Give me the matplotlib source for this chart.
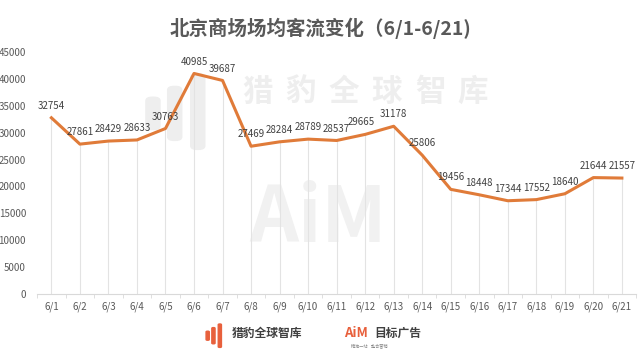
import matplotlib.pyplot as plt
from matplotlib.patches import FancyBboxPatch

plt.rcParams['font.family'] = ['Noto Sans CJK SC', 'DejaVu Sans']
plt.rcParams['axes.unicode_minus'] = False

# 数据
dates = ['6/1', '6/2', '6/3', '6/4', '6/5', '6/6', '6/7', '6/8', '6/9', '6/10', '6/11',
         '6/12', '6/13', '6/14', '6/15', '6/16', '6/17', '6/18', '6/19', '6/20', '6/21']
visitors = [32754, 27861, 28429, 28633, 30763, 40985, 39687, 27469, 28284, 28789, 28537,
            29665, 31178, 25806, 19456, 18448, 17344, 17552, 18640, 21644, 21557]
y_ticks = [0, 5000, 10000, 15000, 20000, 25000, 30000, 35000, 40000, 45000]

line_color = '#E07B39'
x = list(range(len(dates)))

fig = plt.figure(figsize=(6.4, 3.6), dpi=100)
ax = fig.add_axes([0.058, 0.183, 0.936, 0.673])
ax.set_facecolor('none')

# 水印
wm_color = '#eeeeee'
for i, ch in enumerate('猎豹全球智库'):
    ax.text((258 + i * 43) / 640, 0.745, ch, transform=fig.transFigure, fontsize=22,
            fontweight='bold', color=wm_color, ha='center', va='center', zorder=0)
ax.text(0.497, 0.392, 'AiM', transform=fig.transFigure, fontsize=55,
        fontweight='bold', color='#f1f1f1', ha='center', va='center', zorder=0)
for bx, by, bh in [(0.228, 0.64, 0.09), (0.262, 0.61, 0.15), (0.298, 0.585, 0.21)]:
    ax.add_patch(FancyBboxPatch((bx, by), 0.022, bh, boxstyle='round,pad=0,rounding_size=0.01',
                                transform=fig.transFigure, color=wm_color, zorder=0,
                                clip_on=False))

# 垂直线 + 折线
ax.vlines(x, 0, visitors, color='#e3e3e3', linewidth=0.8, zorder=1)
ax.plot(x, visitors, color=line_color, linewidth=2.2, zorder=3)

for xi, v in zip(x, visitors):
    dx = -3 if v == 29665 else 0
    ax.annotate(str(v), (xi, v), xytext=(dx, 5), textcoords='offset points',
                ha='center', va='bottom', fontsize=7, color='#404040', fontweight='medium', zorder=4)

ax.set_xlim(-0.5, len(dates) - 0.5)
ax.set_ylim(0, 45000)
ax.set_yticks(y_ticks)
ax.set_yticklabels([str(t) for t in y_ticks], fontsize=7, color='#595959')
ax.set_xticks(x)
ax.set_xticklabels(dates, fontsize=7, color='#595959')
ax.tick_params(axis='y', length=0, pad=8)
ax.tick_params(axis='x', length=0, pad=5)
ax.set_xticks([i + 0.5 for i in range(-1, len(dates))], minor=True)
ax.tick_params(axis='x', which='minor', length=3, color='#d9d9d9', direction='out')

for s in ['top', 'right', 'left']:
    ax.spines[s].set_visible(False)
ax.spines['bottom'].set_color('#d9d9d9')

# 标题
fig.text(0.5, 0.922, '北京商场场均客流变化（6/1-6/21)', ha='center', va='center',
         fontsize=14, fontweight='bold', color='#595959')

# 底部标识
for bx, by, bh in [(0.322, 0.055, 0.025), (0.331, 0.045, 0.045), (0.341, 0.035, 0.065)]:
    fig.patches.append(FancyBboxPatch((bx, by), 0.005, bh, boxstyle='round,pad=0,rounding_size=0.002',
                                      transform=fig.transFigure, color='#E8603C'))
fig.text(0.362, 0.073, '猎豹全球智库', ha='left', va='center', fontsize=8.5,
         fontweight='bold', color='#404040')
fig.text(0.538, 0.075, 'AiM', ha='left', va='center', fontsize=9.5,
         fontweight='bold', color='#E8603C')
fig.text(0.585, 0.075, '目标广告', ha='left', va='center', fontsize=8.5,
         fontweight='bold', color='#404040')
fig.text(0.548, 0.04, '精准一站    整合营销', ha='left', va='center', fontsize=3,
         color='#888888')

fig.savefig('out.png', dpi=100)
